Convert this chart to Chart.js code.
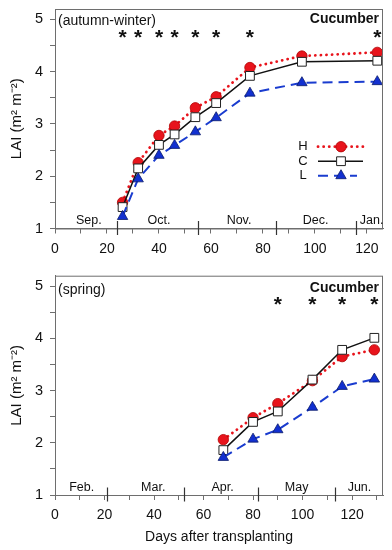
<!DOCTYPE html>
<html>
<head>
<meta charset="utf-8">
<script src="https://cdn.jsdelivr.net/npm/chart.js@4/dist/chart.umd.min.js"></script>
<style>
  html, body { margin: 0; padding: 0; background: #fff; }
  body { width: 392px; height: 550px; position: relative; overflow: hidden; }
  canvas { position: absolute; left: 0; }
  #c1 { top: 0; }
  #c2 { top: 262px; }
</style>
</head>
<body>
<canvas id="c1" width="392" height="262"></canvas>
<canvas id="c2" width="392" height="288"></canvas>
<script>
// ---------- data ----------
const seriesNames = ['H', 'C', 'L'];

// autumn-winter
const daysAW = [26, 32, 40, 46, 54, 62, 75, 95, 124];
const hAW = [1.50, 2.26, 2.78, 2.96, 3.31, 3.52, 4.08, 4.30, 4.37];
const cAW = [1.41, 2.15, 2.60, 2.80, 3.13, 3.40, 3.92, 4.19, 4.21];
const lAW = [1.23, 1.95, 2.40, 2.59, 2.85, 3.12, 3.59, 3.79, 3.81];
const starsAW = [26, 32, 40, 46, 54, 62, 75, 124];
const monthDividersAW = [24, 55, 85, 116];
const monthNamesAW = ['Sep.', 'Oct.', 'Nov.', 'Dec.', 'Jan.'];
const monthCentersAW = [13, 40, 70.8, 100.3, 121.8];

// spring
const daysSp = [68, 80, 90, 104, 116, 129];
const hSp = [2.06, 2.48, 2.75, 3.19, 3.65, 3.78];
const cSp = [1.86, 2.40, 2.60, 3.21, 3.78, 4.01];
const lSp = [1.72, 2.07, 2.25, 2.68, 3.08, 3.22];
const starsSp = [90, 104, 116, 129];
const monthDividersSp = [21, 52, 82, 113];
const monthNamesSp = ['Feb.', 'Mar.', 'Apr.', 'May', 'Jun.'];
const monthCentersSp = [10.8, 39.7, 67.7, 97.6, 123];

const yTickLabels = [1, 2, 3, 4, 5];
const starLevel = 4.7;

// ---------- styles ----------
const FONT = '"Liberation Sans", Arial, sans-serif';
const AXIS = '#6e6e6e';
const styles = {
  H: { borderColor: '#e8141c', backgroundColor: '#e8141c', pointBorderColor: '#b00000',
       borderDash: [0.1, 5.5], borderWidth: 2.8, borderCapStyle: 'round', pointStyle: 'circle', pointRadius: 5.2, pointBorderWidth: 0.8, order: 3 },
  C: { borderColor: '#111', backgroundColor: '#fff', pointBorderColor: '#222',
       borderDash: [], borderWidth: 1.5, borderCapStyle: 'butt', pointStyle: 'rect', pointRadius: 6.2, pointBorderWidth: 1, order: 2 },
  L: { borderColor: '#1a3ccf', backgroundColor: '#1230d0', pointBorderColor: '#0a1a6a',
       borderDash: [10, 6], borderWidth: 2, borderCapStyle: 'butt', pointStyle: 'triangle', pointRadius: 6, pointBorderWidth: 0.8, order: 1 }
};

function makeDataset(name, xs, ys) {
  const s = styles[name];
  return {
    label: name,
    data: xs.map((x, i) => ({ x: x, y: ys[i] })),
    borderColor: s.borderColor,
    backgroundColor: s.backgroundColor,
    pointBackgroundColor: s.backgroundColor,
    pointBorderColor: s.pointBorderColor,
    pointBorderWidth: s.pointBorderWidth,
    borderDash: s.borderDash,
    borderWidth: s.borderWidth,
    borderCapStyle: s.borderCapStyle,
    pointStyle: s.pointStyle,
    pointRadius: s.pointRadius,
    pointHoverRadius: s.pointRadius,
    order: s.order,
    tension: 0,
    fill: false
  };
}

const decorPlugin = {
  id: 'decor',
  afterDatasetsDraw(chart, args, opts) {
    const ctx = chart.ctx;
    const a = chart.chartArea;
    const xs = chart.scales.x, ys = chart.scales.y;
    ctx.save();
    // frame
    ctx.strokeStyle = AXIS;
    ctx.lineWidth = 1;
    ctx.strokeRect(a.left + 0.5, a.top + 0.5, a.right - a.left - 1, a.bottom - a.top);
    // month dividers
    ctx.strokeStyle = '#333';
    ctx.lineWidth = 1.2;
    opts.dividers.forEach(d => {
      const px = Math.round(xs.getPixelForValue(d)) + 0.5;
      ctx.beginPath();
      ctx.moveTo(px, a.bottom - 7.5);
      ctx.lineTo(px, a.bottom + 6.5);
      ctx.stroke();
    });
    // month names
    ctx.fillStyle = '#111';
    ctx.font = '12.5px ' + FONT;
    ctx.textAlign = 'center';
    ctx.textBaseline = 'middle';
    opts.monthNames.forEach((m, i) => {
      ctx.fillText(m, xs.getPixelForValue(opts.monthCenters[i]), a.bottom - 7.5);
    });
    // stars
    ctx.font = 'bold 21px ' + FONT;
    ctx.textBaseline = 'alphabetic';
    opts.stars.forEach(d => {
      ctx.fillText('*', xs.getPixelForValue(d), ys.getPixelForValue(starLevel) + 9);
    });
    // season label & crop
    ctx.font = '14px ' + FONT;
    ctx.textAlign = 'left';
    ctx.textBaseline = 'middle';
    ctx.fillText(opts.season, a.left + 3, a.top + opts.labelDy);
    ctx.font = 'bold 14px ' + FONT;
    ctx.textAlign = 'right';
    ctx.fillText('Cucumber', a.right - 4, a.top + opts.labelDy - 2);
    // legend
    if (opts.legend) {
      const lx = 303, y0 = 146.7, dy = 14.5;
      chart.data.datasets.forEach((ds, i) => {
        const y = y0 + i * dy;
        ctx.font = '13px ' + FONT;
        ctx.textAlign = 'center';
        ctx.fillStyle = '#111';
        ctx.fillText(ds.label, lx, y);
        ctx.save();
        ctx.strokeStyle = ds.borderColor;
        ctx.lineWidth = ds.borderWidth;
        ctx.lineCap = ds.borderCapStyle;
        ctx.setLineDash(ds.borderDash);
        ctx.beginPath();
        ctx.moveTo(318, y);
        ctx.lineTo(ds.label === 'L' ? 357 : 363, y);
        ctx.stroke();
        ctx.restore();
        ctx.save();
        ctx.fillStyle = ds.pointBackgroundColor;
        ctx.strokeStyle = ds.pointBorderColor;
        ctx.lineWidth = ds.pointBorderWidth;
        Chart.helpers.drawPoint(ctx, { pointStyle: ds.pointStyle, radius: ds.pointRadius, borderWidth: ds.pointBorderWidth, rotation: 0 }, 341, y);
        ctx.restore();
      });
    }
    ctx.restore();
  }
};

function makeChart(id, xs, h, c, l, xMax, xAxisHeight, topPad, decor, showXTitle) {
  return new Chart(document.getElementById(id), {
    type: 'line',
    data: { datasets: [makeDataset('H', xs, h), makeDataset('C', xs, c), makeDataset('L', xs, l)] },
    options: {
      responsive: false,
      animation: false,
      devicePixelRatio: 1,
      layout: { padding: { left: 0, right: 9, top: topPad, bottom: 0 } },
      plugins: { legend: { display: false }, tooltip: { enabled: false }, decor: decor },
      scales: {
        x: {
          type: 'linear', min: 0, max: xMax,
          afterFit(s) { s.height = xAxisHeight; s.paddingLeft = 0; s.paddingRight = 0; },
          afterBuildTicks(s) { s.ticks = s.ticks.filter(t => t.value % 10 === 0); },
          ticks: { stepSize: 10, includeBounds: false, autoSkip: false, maxRotation: 0, padding: 7, color: '#111',
                   font: { family: FONT, size: 14 },
                   callback: v => (v % 20 === 0 ? String(v) : '') },
          grid: { drawOnChartArea: false, drawTicks: true, tickLength: 5, color: AXIS },
          border: { display: true, color: AXIS },
          title: { display: showXTitle, text: 'Days after transplanting', color: '#111',
                   font: { family: FONT, size: 14 }, padding: { top: 0, bottom: 4.6 } }
        },
        y: {
          type: 'linear', min: 1, max: 5.2,
          afterFit(s) { s.width = 55; s.paddingTop = 0; s.paddingBottom = 0; },
          afterBuildTicks(s) { s.ticks = s.ticks.filter(t => t.value <= 5.0001); },
          ticks: { stepSize: 0.5, includeBounds: false, autoSkip: false, padding: 7, color: '#111',
                   font: { family: FONT, size: 14.5 },
                   callback: v => (yTickLabels.includes(v) ? String(v) : '') },
          grid: { drawOnChartArea: false, drawTicks: true, tickLength: 5, color: AXIS },
          border: { display: true, color: AXIS },
          title: { display: true, text: 'LAI (m\u00B2 m\u207B\u00B2)', color: '#111',
                   font: { family: FONT, size: 15 }, padding: { top: 8, bottom: 0 } }
        }
      }
    },
    plugins: [decorPlugin]
  });
}

makeChart('c1', daysAW, hAW, cAW, lAW, 126.2, 33.5, 9,
  { dividers: monthDividersAW, monthNames: monthNamesAW, monthCenters: monthCentersAW, stars: starsAW,
    season: '(autumn-winter)', labelDy: 11.7, legend: true }, false);
makeChart('c2', daysSp, hSp, cSp, lSp, 132.5, 55, 13.7,
  { dividers: monthDividersSp, monthNames: monthNamesSp, monthCenters: monthCentersSp, stars: starsSp,
    season: '(spring)', labelDy: 14, legend: false }, true);
</script>
</body>
</html>
